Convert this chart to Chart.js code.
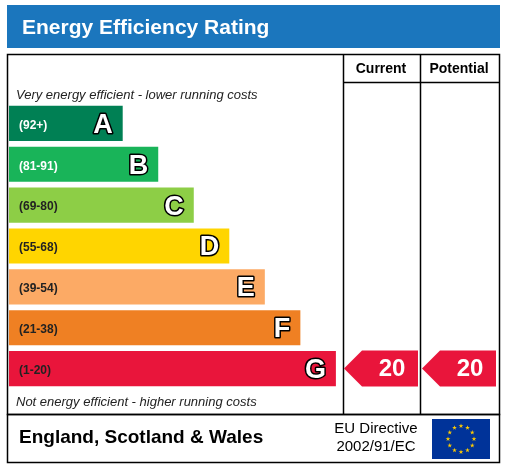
<!DOCTYPE html><html><head><meta charset="utf-8">
<script src="https://cdn.jsdelivr.net/npm/chart.js@4/dist/chart.umd.min.js"></script>
<style>html,body{margin:0;padding:0;background:#fff}canvas{display:block}</style></head><body>
<div style="width:509px;height:467px"><canvas id="c" width="509" height="467"></canvas></div>
<script>
const bands = ["A","B","C","D","E","F","G"];
const ranges = ["(92+)","(81-91)","(69-80)","(55-68)","(39-54)","(21-38)","(1-20)"];
const barLengths = [32,42,52,62,72,82,92];
const colors = ["#008054","#19b459","#8dce46","#ffd500","#fcaa65","#ef8023","#e9153b"];
const rangeTextColors = ["#fff","#fff","#222","#222","#222","#222","#222"];
const currentRating = 20, currentBand = "G";
const potentialRating = 20, potentialBand = "G";

function arrow(ctx,x1,x2,yc,h,color,txt){
  ctx.fillStyle=color;ctx.beginPath();
  ctx.moveTo(x1,yc);ctx.lineTo(x1+h/2,yc-h/2);ctx.lineTo(x2,yc-h/2);ctx.lineTo(x2,yc+h/2);ctx.lineTo(x1+h/2,yc+h/2);ctx.closePath();ctx.fill();
  ctx.fillStyle="#fff";ctx.font="bold 24px Arial, 'Liberation Sans'";ctx.textAlign="center";ctx.textBaseline="middle";
  ctx.fillText(txt,(x1+h/2+x2)/2+2,yc+1);
}
const deco={id:"deco",
 beforeDraw(ch){const c=ch.ctx;c.save();
  c.fillStyle="#fff";c.fillRect(0,0,509,467);
  c.fillStyle="#1b76bd";c.fillRect(7,5,493,43);
  c.fillStyle="#fff";c.font="bold 21px Arial, 'Liberation Sans'";c.textBaseline="middle";c.textAlign="left";
  c.fillText("Energy Efficiency Rating",22,28);
  c.strokeStyle="#000";c.lineWidth=1.5;
  c.strokeRect(7.5,54.5,492,360);c.strokeRect(7.5,414.5,492,48);
  c.beginPath();c.moveTo(343.5,55);c.lineTo(343.5,414);c.moveTo(420.5,55);c.lineTo(420.5,414);
  c.moveTo(343,82.5);c.lineTo(500,82.5);c.stroke();
  c.fillStyle="#000";c.font="bold 14px Arial, 'Liberation Sans'";c.textAlign="center";
  c.fillText("Current",381,69);c.fillText("Potential",459,69);
  c.font="italic 13px Arial, 'Liberation Sans'";c.textAlign="left";c.fillStyle="#222";
  c.fillText("Very energy efficient - lower running costs",16,95);
  c.fillText("Not energy efficient - higher running costs",16,402);
  c.font="bold 19px Arial, 'Liberation Sans'";c.fillStyle="#000";
  c.fillText("England, Scotland & Wales",19,438);
  c.font="15px Arial, 'Liberation Sans'";c.textAlign="center";
  c.fillText("EU Directive",376,429);c.fillText("2002/91/EC",376,447);
  c.fillStyle="#003399";c.fillRect(432,419,58,40);
  c.fillStyle="#ffcc00";
  for(let i=0;i<12;i++){const a=i*Math.PI/6;const x=461+13*Math.cos(a),y=439+13*Math.sin(a);
   c.beginPath();for(let k=0;k<5;k++){const b=-Math.PI/2+k*4*Math.PI/5;c.lineTo(x+2.5*Math.cos(b),y+2.5*Math.sin(b));}c.fill();}
  c.restore();},
 afterDatasetsDraw(ch){const c=ch.ctx;c.save();const meta=ch.getDatasetMeta(0);
  meta.data.forEach((b,i)=>{
   c.textBaseline="middle";c.textAlign="left";c.font="bold 12px Arial, 'Liberation Sans'";c.fillStyle=rangeTextColors[i];
   c.fillText(ranges[i],19,b.y+2);
   c.font="bold 27px Arial, 'Liberation Sans'";c.textAlign="right";c.lineWidth=3;c.strokeStyle="#000";c.lineJoin="round";
   c.strokeText(bands[i],b.x-10,b.y+2);c.fillStyle="#fff";c.fillText(bands[i],b.x-10,b.y+2);
  });
  const y=ch.scales.y;
  arrow(c,344,418,y.getPixelForValue(bands.indexOf(currentBand)),36,colors[bands.indexOf(currentBand)],String(currentRating));
  arrow(c,422,496,y.getPixelForValue(bands.indexOf(potentialBand)),36,colors[bands.indexOf(potentialBand)],String(potentialRating));
  c.restore();}
};
new Chart(document.getElementById("c"),{type:"bar",
 data:{labels:bands,datasets:[{data:barLengths,backgroundColor:colors,categoryPercentage:1,barPercentage:0.86,borderWidth:0}]},
 options:{indexAxis:"y",responsive:false,animation:false,
  layout:{padding:{left:9,right:166,top:103,bottom:78}},
  plugins:{legend:{display:false},tooltip:{enabled:false}},
  scales:{x:{display:false,min:0,max:94},y:{display:false}}},
 plugins:[deco]});
</script></body></html>
